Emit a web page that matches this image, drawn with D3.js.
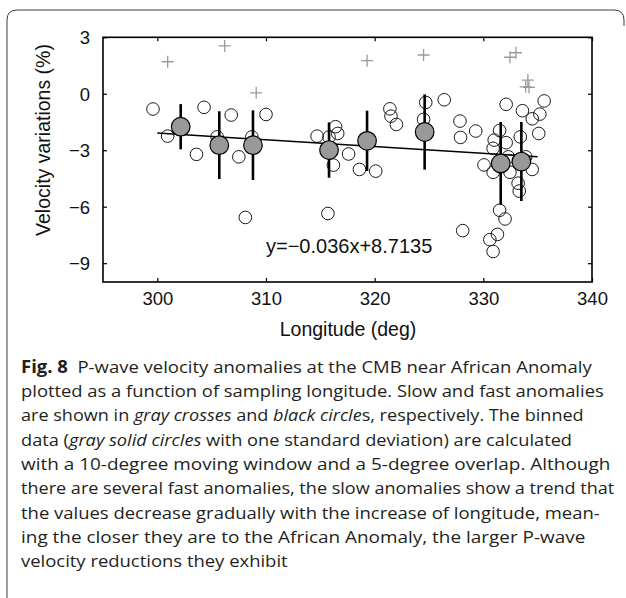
<!DOCTYPE html>
<html>
<head>
<meta charset="utf-8">
<script src="https://cdn.jsdelivr.net/npm/d3@7"></script>
<style>
  body { margin: 0; background: #fff; }
  svg { display: block; }
</style>
</head>
<body>
<svg id="fig" width="626" height="598"></svg>
<script>
(function () {

    // slow anomalies (gray crosses)
    var slowLon = [300.95, 306.2, 309.1, 319.3, 324.5, 332.45, 333.0, 334.1, 334.2, 333.9];
    var slowVel = [1.70, 2.54, 0.05, 1.76, 2.06, 1.94, 2.18, 0.73, 0.34, 0.37];

    // fast anomalies (open circles)
    var fastLon = [299.6, 304.3, 306.8, 310.0, 300.95, 303.6, 305.5, 307.5, 308.7, 308.1,
                   314.7, 316.4, 316.6, 315.8, 316.2, 317.6, 315.7, 318.6, 320.1, 321.4,
                   321.5, 322.0, 324.7, 324.5, 326.4,
                   327.85, 327.9, 329.3, 328.1, 330.06, 330.9, 331.0, 330.9, 331.5, 332.1,
                   332.1, 332.45, 332.3, 333.2, 333.3, 333.6, 333.4, 334.5, 335.2, 335.6,
                   335.1, 334.5, 333.9, 331.5, 332.0, 330.6, 331.3, 330.9];
    var fastVel = [-0.81, -0.72, -1.13, -1.10, -2.25, -3.22, -2.29, -3.35, -2.29, -6.57,
                   -2.25, -1.75, -2.11, -2.30, -3.79, -3.20, -6.36, -4.02, -4.11, -0.80,
                   -1.19, -1.63, -0.46, -1.36, -0.32,
                   -1.45, -2.32, -1.98, -7.27, -3.78, -4.17, -2.46, -2.90, -1.95, -0.56,
                   -2.60, -4.17, -3.35, -4.75, -5.17, -0.90, -2.29, -1.33, -1.08, -0.38,
                   -2.11, -4.02, -3.35, -6.19, -6.65, -7.75, -7.47, -8.38];

    // binned data (gray solid circles, one standard deviation)
    var binLon  = [302.15, 305.7, 308.8, 315.8, 319.3, 324.6, 331.6, 333.5];
    var binMean = [-1.75, -2.73, -2.73, -2.99, -2.50, -2.03, -3.70, -3.60];
    var binSd   = [1.20, 1.80, 1.85, 1.47, 1.60, 2.00, 2.20, 2.10];

    // linear fit y = slope * x + intercept, drawn over fitRange
    var slope = -0.036, intercept = 8.7135;
    var fitRange = [300, 335];

    var xTicks = [300, 310, 320, 330, 340];
    var yTicks = [3, 0, -3, -6, -9];

    var caption = [
        [["Fig. 8", "b"], ["  P-wave velocity anomalies at the CMB near African Anomaly"]],
        [["plotted as a function of sampling longitude. Slow and fast anomalies"]],
        [["are shown in "], ["gray crosses", "i"], [" and "], ["black circle", "i"], ["s, respectively. The binned"]],
        [["data ("], ["gray solid circles", "i"], [" with one standard deviation) are calculated"]],
        [["with a 10-degree moving window and a 5-degree overlap. Although"]],
        [["there are several fast anomalies, the slow anomalies show a trend that"]],
        [["the values decrease gradually with the increase of longitude, mean-"]],
        [["ing the closer they are to the African Anomaly, the larger P-wave"]],
        [["velocity reductions they exhibit"]]
    ];
    var captionEnds = [591.7, 603.7, 583.7, 572, 610.3, 614.3, 599.7, 585.3, null];

    var svg = d3.select("#fig");

    // rounded frame around figure + caption
    svg.append("path")
        .attr("d", "M7,598 L7,20 Q7,10 17,10 L614,10 Q624,10 624,20 L624,26")
        .style("fill", "none")
        .style("stroke", "#3a3a3a")
        .style("stroke-width", 1);

    var left = 103, right = 592, top = 37.3, bottom = 282;

    var x = d3.scaleLinear().domain([295, 340]).range([left, right]);
    var y = d3.scaleLinear().domain([-10, 3]).range([bottom, top]);

    var plot = svg.append("g");

    // open circles
    plot.append("g").selectAll("circle")
        .data(d3.range(fastLon.length))
        .enter().append("circle")
        .attr("cx", function (i) {return x(fastLon[i]);})
        .attr("cy", function (i) {return y(fastVel[i]);})
        .attr("r", 6.3)
        .style("fill", "none")
        .style("stroke", "#1a1a1a")
        .style("stroke-width", 1);

    // gray crosses
    var cs = 6;
    plot.append("g").selectAll("path")
        .data(d3.range(slowLon.length))
        .enter().append("path")
        .attr("d", function (i) {
            var cx = x(slowLon[i]), cy = y(slowVel[i]);
            return "M" + (cx - cs) + "," + cy + "H" + (cx + cs) +
                   "M" + cx + "," + (cy - cs) + "V" + (cy + cs);
        })
        .style("stroke", "#9a9a9a")
        .style("stroke-width", 1.3);

    // fit line
    plot.append("line")
        .attr("x1", x(fitRange[0])).attr("y1", y(slope * fitRange[0] + intercept))
        .attr("x2", x(fitRange[1])).attr("y2", y(slope * fitRange[1] + intercept))
        .style("stroke", "#000")
        .style("stroke-width", 1.6);

    // error bars
    plot.append("g").selectAll("line")
        .data(d3.range(binLon.length))
        .enter().append("line")
        .attr("x1", function (i) {return x(binLon[i]);})
        .attr("x2", function (i) {return x(binLon[i]);})
        .attr("y1", function (i) {return y(binMean[i] + binSd[i]);})
        .attr("y2", function (i) {return y(binMean[i] - binSd[i]);})
        .style("stroke", "#000")
        .style("stroke-width", 2.6);

    // binned means
    plot.append("g").selectAll("circle")
        .data(d3.range(binLon.length))
        .enter().append("circle")
        .attr("cx", function (i) {return x(binLon[i]);})
        .attr("cy", function (i) {return y(binMean[i]);})
        .attr("r", 9.3)
        .style("fill", "#999")
        .style("stroke", "#000")
        .style("stroke-width", 1.2);

    // axes: ticks inward on all four sides
    var font = "'Liberation Sans', Arial, sans-serif";

    var gx = svg.append("g").attr("transform", "translate(0," + bottom + ")")
        .call(d3.axisBottom(x).tickValues(xTicks).tickSize(-4).tickPadding(10));
    var gxt = svg.append("g").attr("transform", "translate(0," + top + ")")
        .call(d3.axisTop(x).tickValues(xTicks).tickSize(-4).tickFormat(""));
    var gy = svg.append("g").attr("transform", "translate(" + left + ",0)")
        .call(d3.axisLeft(y).tickValues(yTicks).tickSize(-4).tickPadding(13));
    var gyr = svg.append("g").attr("transform", "translate(" + right + ",0)")
        .call(d3.axisRight(y).tickValues(yTicks).tickSize(-4).tickFormat(""));

    [gx, gxt, gy, gyr].forEach(function (g) {
        g.select(".domain").remove();
        g.selectAll(".tick line").style("stroke", "#000").style("stroke-width", 1.2);
        g.selectAll("text")
            .style("font-family", font)
            .style("font-size", "18.5px")
            .style("fill", "#111");
    });
    gy.selectAll("text").attr("dy", "0.36em");

    svg.append("rect")
        .attr("x", left).attr("y", top)
        .attr("width", right - left).attr("height", bottom - top)
        .style("fill", "none")
        .style("stroke", "#000")
        .style("stroke-width", 1.6);

    // equation
    svg.append("text")
        .attr("x", 266).attr("y", 253)
        .style("font-family", font)
        .style("font-size", "20px")
        .style("fill", "#111")
        .text("y=\u22120.036x+8.7135");

    // axis titles
    svg.append("text")
        .attr("transform", "translate(50,140) rotate(-90)")
        .attr("text-anchor", "middle")
        .style("font-family", font)
        .style("font-size", "19.5px")
        .style("fill", "#111")
        .text("Velocity variations (%)");

    svg.append("text")
        .attr("x", 348).attr("y", 336)
        .attr("text-anchor", "middle")
        .style("font-family", font)
        .style("font-size", "19.5px")
        .style("fill", "#111")
        .text("Longitude (deg)");

    // caption
    var capX = 21, capY = 372.7, capStep = 24.3;
    var lines = svg.append("g").selectAll("text")
        .data(caption)
        .enter().append("text")
        .attr("x", capX)
        .attr("y", function (d, i) {return capY + i * capStep;})
        .style("font-family", "'Open Sans', 'Noto Sans', sans-serif")
        .style("font-size", "17px")
        .style("fill", "#231f20")
        .attr("xml:space", "preserve");

    lines.selectAll("tspan")
        .data(function (d) {return d;})
        .enter().append("tspan")
        .style("font-weight", function (s) {return s[1] === "b" ? 700 : null;})
        .style("font-style", function (s) {return s[1] === "i" ? "italic" : null;})
        .text(function (s) {return s[0];});

    var ratios = [];
    lines.each(function (d, i) {
        var w = this.getComputedTextLength();
        if (captionEnds[i]) ratios.push((captionEnds[i] - capX) / w);
    });
    var meanRatio = d3.mean(ratios);
    lines.each(function (d, i) {
        var w = this.getComputedTextLength();
        var target = captionEnds[i] ? captionEnds[i] - capX : w * meanRatio;
        d3.select(this)
            .attr("textLength", target)
            .attr("lengthAdjust", "spacingAndGlyphs");
    });
}());
</script>
</body>
</html>
